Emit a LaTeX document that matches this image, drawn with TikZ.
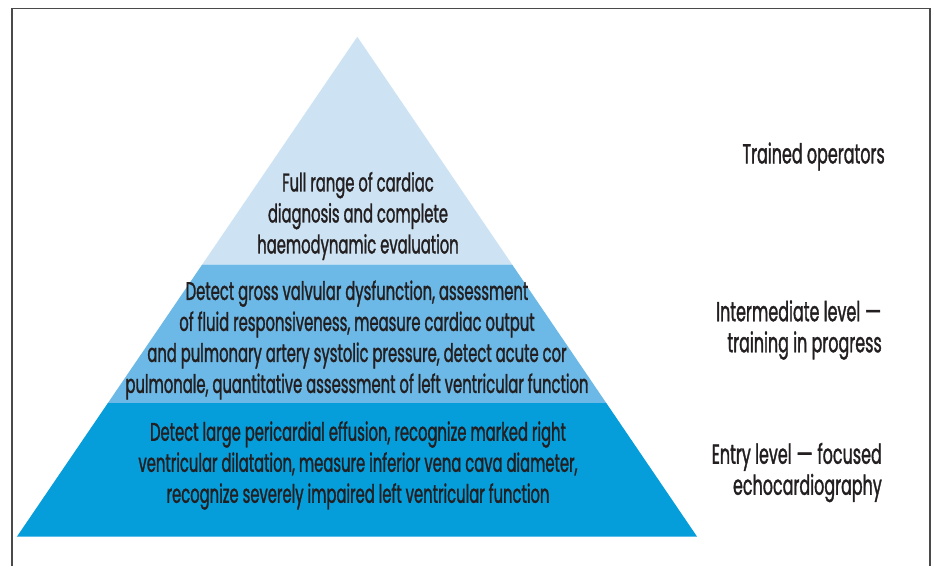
\documentclass[tikz,border=0pt]{standalone}
\usepackage{fontspec}
\setmainfont{Poppins}[FakeStretch=0.58, FakeBold=1.2]
\usetikzlibrary{calc}
\definecolor{tierlight}{HTML}{CDE3F4}
\definecolor{tiermid}{HTML}{6CB8E6}
\definecolor{tierdark}{HTML}{069DDB}
\definecolor{inktext}{HTML}{231F20}
\definecolor{framegray}{HTML}{4A4A4A}
% a wider dash, as the condensed face sets it
\newcommand{\widedash}{\scalebox{1.6}[1]{–}}
\tikzset{
  tiertext/.style={align=center, text=inktext, font=\fontsize{25.5}{31}\selectfont, inner sep=0pt},
  sidetext/.style={align=right, anchor=east, text=inktext, font=\fontsize{27.5}{31}\selectfont, inner sep=0pt},
}
\begin{document}
\begin{tikzpicture}[x=1pt, y=-1pt]
\useasboundingbox (0,0) rectangle (934,566);
% outer frame, open at the bottom
\draw[framegray, line width=1.3pt] (12,566) -- (12,8.5) -- (930,8.5) -- (930,566);
% pyramid corners
\coordinate (apex) at (357.3,36.7);
\coordinate (bl) at (17,536.5);
\coordinate (br) at (697,536.5);
\coordinate (ul) at ($(apex)!0.4558!(bl)$);
\coordinate (ur) at ($(apex)!0.4558!(br)$);
\coordinate (ml) at ($(apex)!0.7329!(bl)$);
\coordinate (mr) at ($(apex)!0.7329!(br)$);
% tiers
\fill[tierlight] (apex) -- (ur) -- (ul) -- cycle;
\fill[tiermid] (ul) -- (ur) -- (mr) -- (ml) -- cycle;
\fill[tierdark] (ml) -- (mr) -- (br) -- (bl) -- cycle;
% tier descriptions
\node[tiertext] (top) at (358,216) {Full range of cardiac\\diagnosis and complete\\haemodynamic evaluation};
\node[tiertext] (mid) at (357,340) {Detect gross valvular dysfunction, assessment\\of fluid responsiveness, measure cardiac output\\and pulmonary artery systolic pressure, detect acute cor\\pulmonale, quantitative assessment of left ventricular function};
\node[tiertext] (low) at (358,465.5) {Detect large pericardial effusion, recognize marked right\\ventricular dilatation, measure inferior vena cava diameter,\\recognize severely impaired left ventricular function};
% operator levels
\node[sidetext] (lvltop) at (885,156.5) {Trained operators};
\node[sidetext] (lvlmid) at (882,330) {Intermediate level \widedash\\training in progress};
\node[sidetext] (lvllow) at (882,472.5) {Entry level \widedash{} focused\\echocardiography};
\end{tikzpicture}
\end{document}
